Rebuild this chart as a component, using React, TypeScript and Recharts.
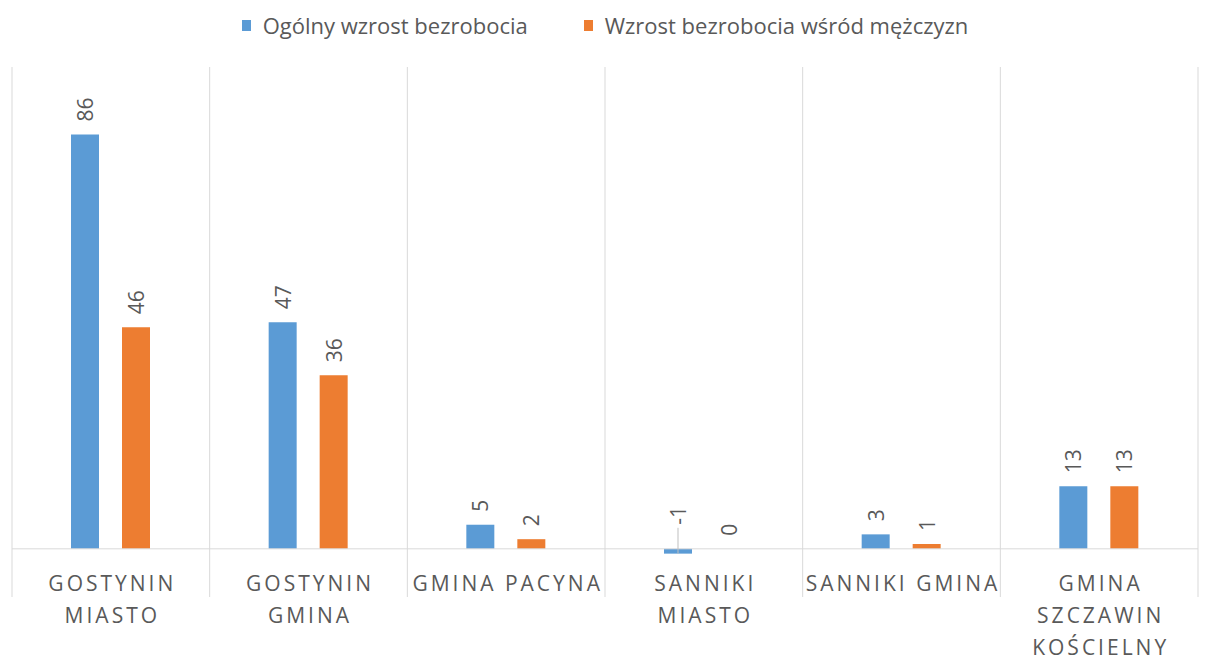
import {Bar, BarChart, CartesianGrid, LabelList, Legend, ReferenceLine, XAxis, YAxis} from 'recharts'

const categories = [
    'GOSTYNIN\nMIASTO',
    'GOSTYNIN\nGMINA',
    'GMINA PACYNA',
    'SANNIKI\nMIASTO',
    'SANNIKI GMINA',
    'GMINA\nSZCZAWIN\nKOŚCIELNY',
]
const ogolny = [86, 47, 5, -1, 3, 13]
const mezczyzni = [46, 36, 2, 0, 1, 13]
const seriesNames = ['Ogólny wzrost bezrobocia', 'Wzrost bezrobocia wśród mężczyzn']
const colors = ['#5B9BD5', '#ED7D31']

const data = categories.map((name, i) => ({name, ogolny: ogolny[i], mezczyzni: mezczyzni[i]}))

const FONT = '"Open Sans", sans-serif'
const TEXT = '#595959'
const GRID = '#D9D9D9'

// zero-valued bars get a tiny height so their label is still drawn
const keepZero = (value: any) => (value === 0 ? 0.01 : 0)

function CategoryTick({x, y, payload}: any) {
    const lines = String(payload.value).split('\n')
    return (
        <text x={x} y={y} textAnchor="middle" fill={TEXT} fontFamily={FONT} fontSize={21} letterSpacing={3}>
            {lines.map((line, i) => (
                <tspan key={i} x={x + 1.5} y={y - 6 + i * 32}>{line}</tspan>
            ))}
        </text>
    )
}

function ValueLabel({x, y, width, height, value}: any) {
    const cx = x + width / 2
    const top = Math.min(y, y + height)
    const bottom = Math.max(y, y + height)
    const negative = value < 0
    const ty = negative ? top - 24 : top - 13
    return (
        <g>
            {negative ? <line x1={cx} x2={cx} y1={top - 21} y2={bottom} stroke="#BFBFBF" strokeWidth={1}/> : null}
            <text x={cx} y={ty} transform={`rotate(-90, ${cx}, ${ty})`} textAnchor="start" dominantBaseline="central"
                  fill={TEXT} fontFamily={FONT} fontSize={21}>
                {String(value)}
            </text>
        </g>
    )
}

function LegendContent() {
    return (
        <div style={{display: 'flex', justifyContent: 'center', gap: 56, fontFamily: FONT, fontSize: 22, color: TEXT}}>
            {seriesNames.map((name, i) => (
                <div key={name} style={{display: 'flex', alignItems: 'center', gap: 12}}>
                    <span style={{display: 'inline-block', width: 9, height: 11, background: colors[i]}}/>
                    <span>{name}</span>
                </div>
            ))}
        </div>
    )
}

export default function App() {
    return (
        <div style={{position: 'absolute', left: 0, top: 0, width: 1210, height: 660, background: '#fff'}}>
            <BarChart width={1210} height={660} data={data} margin={{top: 67, right: 12, bottom: 0, left: 12}}
                      barSize={28} barGap={23}>
                <CartesianGrid horizontal={false} stroke={GRID}
                               verticalCoordinatesGenerator={({offset}: any) =>
                                   Array.from({length: categories.length + 1}, (_, i) => offset.left + i * offset.width / categories.length)}/>
                <XAxis dataKey="name" height={63} axisLine={false} tickLine={false} tickSize={0} tickMargin={0}
                       interval={0} tick={<CategoryTick/>}/>
                <YAxis hide domain={[-10, 100]}/>
                <ReferenceLine y={0} stroke={GRID} strokeWidth={1}/>
                <Legend verticalAlign="middle" wrapperStyle={{top: 10, left: 0, width: 1210}} content={<LegendContent/>}/>
                <Bar dataKey="ogolny" name={seriesNames[0]} fill={colors[0]} minPointSize={keepZero} isAnimationActive={false}>
                    <LabelList dataKey="ogolny" content={<ValueLabel/>}/>
                </Bar>
                <Bar dataKey="mezczyzni" name={seriesNames[1]} fill={colors[1]} minPointSize={keepZero} isAnimationActive={false}>
                    <LabelList dataKey="mezczyzni" content={<ValueLabel/>}/>
                </Bar>
            </BarChart>
        </div>
    )
}
